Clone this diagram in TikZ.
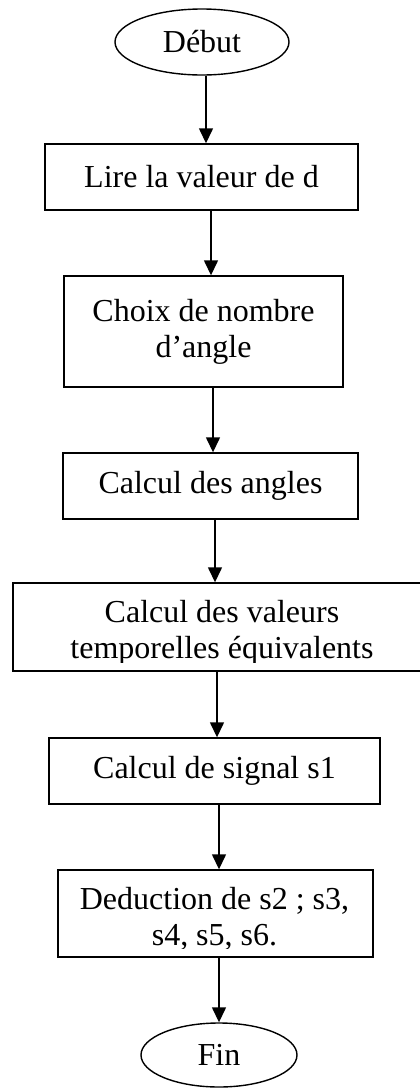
\documentclass[tikz,border=0pt]{standalone}
\usepackage{fontspec}
\setmainfont{Liberation Serif}
\usetikzlibrary{arrows.meta,shapes.geometric}

\begin{document}
\begin{tikzpicture}[x=0.5pt, y=-0.5pt,
    every node/.style={font=\fontsize{16}{18}\selectfont, inner sep=0pt},
    stepbox/.style={draw, line width=0.7pt, align=center},
    term/.style={draw, ellipse, line width=0.7pt},
    arr/.style={-{Triangle[length=7.5pt,width=7pt]}, line width=0.7pt}]
    \useasboundingbox (0,0) rectangle (419,1088);

    % Start
    \node[term, minimum width=87pt, minimum height=33pt] (debut) at (202,42) {Début};

    % Steps (sizes)
    \node[stepbox, minimum width=156.5pt, minimum height=33pt] (lire) at (201.5,177) {Lire la valeur de d};
    \node[stepbox, minimum width=139.5pt, minimum height=55.5pt] (choix) at (203.5,331.5) {Choix de nombre\\d’angle};
    \node[stepbox, minimum width=147.5pt, minimum height=33pt] (angles) at (210.5,486) {Calcul des angles};
    \node[stepbox, minimum width=206pt, minimum height=44pt] (valeurs) at (219,627) {};
    \node[stepbox, minimum width=165.5pt, minimum height=33pt] (signal) at (214.5,771) {Calcul de signal s1};
    \node[stepbox, minimum width=157.5pt, minimum height=43.5pt] (deduc) at (215.5,913.5) {};

    % End
    \node[term, minimum width=78pt, minimum height=32pt] (fin) at (219,1055) {Fin};

    % Text of the two full boxes, cut at the bottom
    \begin{scope}
        \clip (valeurs.north west) rectangle ([yshift=4.5pt]valeurs.south east);
        \node[anchor=north, align=center] (valeurstxt) at ([xshift=1.5pt,yshift=-9pt]valeurs.north) {Calcul des valeurs\\temporelles équivalents};
    \end{scope}
    \begin{scope}
        \clip (deduc.north west) rectangle ([yshift=4.5pt]deduc.south east);
        \node[anchor=north, align=center] (deductxt) at ([xshift=-0.5pt,yshift=-9pt]deduc.north) {Deduction de s2 ; s3,\\s4, s5, s6.};
    \end{scope}

    % Arrows (the scan leans a little, hence the shifts)
    \foreach \a/\b/\s in {debut/lire/2pt, lire/choix/4.75pt, choix/angles/4.75pt,
        angles/valeurs/2.25pt, valeurs/signal/-1pt, signal/deduc/2.25pt, deduc/fin/1.75pt}
        \draw[arr] ([xshift=\s]\a.south) -- ([xshift=\s]\a.south |- \b.north);

\end{tikzpicture}
\end{document}
